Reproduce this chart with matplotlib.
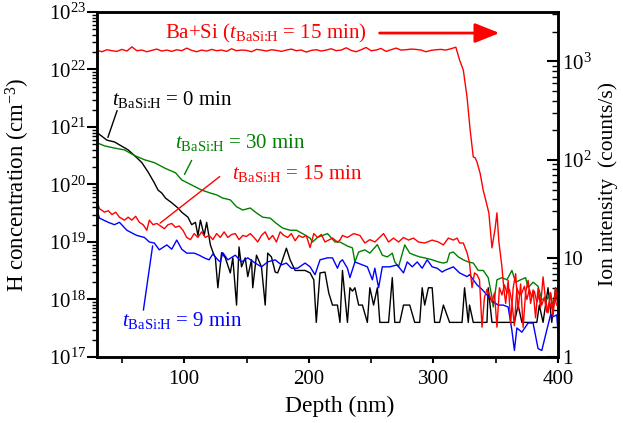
import math
import matplotlib
matplotlib.use("Agg")
import matplotlib.pyplot as plt
from matplotlib.ticker import FixedLocator, FuncFormatter, LogLocator, NullFormatter, MultipleLocator

plt.rcParams['font.family'] = ['Liberation Serif', 'DejaVu Serif']
plt.rcParams['mathtext.fontset'] = 'custom'
plt.rcParams['mathtext.rm'] = 'Liberation Serif'
plt.rcParams['mathtext.it'] = 'Liberation Serif:italic'
plt.rcParams['font.size'] = 15

# t = 0 min (black), H concentration (cm^-3)
depth_0 = [30, 38, 44, 55, 60, 66, 71, 76, 79, 82,
           85, 90, 95, 98, 103, 106, 109, 111, 113, 116,
           118, 121, 123, 125, 127, 130, 133, 137, 139, 142,
           144, 146, 149, 151, 154, 155, 158, 162, 165, 167,
           170, 173, 175, 178, 182, 185, 189, 193, 197, 201,
           204, 206, 209, 213, 216, 219, 223, 225, 227, 231,
           233, 235, 237, 240, 243, 247, 249, 252, 255, 257,
           264, 267, 269, 273, 276, 281, 285, 289, 291, 293,
           296, 299, 301, 305, 308, 313, 323, 325, 328, 329,
           332, 343, 344, 347, 365, 368, 371, 383, 385, 388,
           392, 395, 398, 400]
h_0 = [8.0e20, 5.9e20, 5.5e20, 4.0e20, 3.2e20, 2.4e20, 1.65e20, 1.07e20, 8.0e19, 7.1e19,
       5.8e19, 4.8e19, 3.9e19, 3.3e19, 2.7e19, 2.0e19, 2.2e19, 1.3e19, 2.4e19, 1.3e19,
       2.2e19, 8.9e18, 6.7e18, 5.3e18, 1.6e18, 6.5e18, 5.3e18, 2.9e18, 5.3e18, 8.0e17,
       8.2e18, 3.7e18, 5.3e18, 2.5e18, 4.9e18, 1.6e18, 5.9e18, 3.7e18, 8.0e17, 6.4e18,
       5.5e18, 3.0e18, 2.9e18, 4.3e18, 7.8e18, 4.9e18, 3.2e18, 3.2e18, 3.2e18, 2.9e18,
       2.2e18, 4.0e17, 2.9e18, 3.0e18, 1.3e18, 8.0e17, 8.0e17, 4.0e17, 3.2e18, 4.0e17,
       1.6e18, 1.4e18, 1.6e18, 8.0e17, 8.0e17, 4.0e17, 1.6e18, 8.0e17, 1.6e18, 4.0e17,
       4.0e17, 2.4e18, 4.0e17, 4.0e17, 8.0e17, 8.0e17, 4.0e17, 4.0e17, 1.6e18, 8.0e17,
       1.6e18, 1.6e18, 4.0e17, 4.0e17, 8.0e17, 4.0e17, 4.0e17, 1.6e18, 4.0e17, 8.0e17,
       4.0e17, 4.0e17, 1.6e18, 4.0e17, 4.0e17, 8.0e17, 4.0e17, 4.0e17, 8.0e17, 4.0e17,
       1.6e18, 4.0e17, 1.6e18, 8.0e17]

# t = 9 min (blue)
depth_9 = [30, 32, 39, 44, 48, 54, 59, 62, 68, 72,
           76, 80, 86, 90, 94, 98, 102, 108, 112, 116,
           120, 123, 127, 129, 131, 135, 141, 146, 151, 157,
           162, 167, 173, 178, 182, 186, 191, 197, 201, 205,
           209, 215, 219, 223, 225, 227, 231, 233, 237, 243,
           247, 251, 253, 256, 259, 265, 271, 273, 276, 279,
           283, 287, 291, 295, 299, 303, 307, 309, 316, 321,
           327, 329, 332, 335, 339, 343, 348, 352, 356, 360,
           363, 365, 367, 371, 376, 380, 384, 387, 390, 394,
           396, 399, 400]
h_9 = [3.6e19, 2.6e19, 2.2e19, 2.0e19, 2.2e19, 1.6e19, 1.4e19, 1.3e19, 1.2e19, 1.0e19,
       9.6e18, 7.3e18, 8.9e18, 7.5e18, 1.08e19, 7.5e18, 6.4e18, 6.4e18, 5.9e18, 5.3e18,
       4.9e18, 6.2e18, 4.9e18, 4.5e18, 6.5e18, 4.9e18, 5.9e18, 4.5e18, 5.3e18, 4.3e18,
       3.7e18, 4.5e18, 4.9e18, 4.0e18, 4.3e18, 3.5e18, 3.5e18, 4.3e18, 3.7e18, 2.7e18,
       4.9e18, 5.3e18, 5.3e18, 3.5e18, 4.5e18, 4.9e18, 3.5e18, 2.4e18, 4.5e18, 4.0e18,
       3.7e18, 2.2e18, 3.5e18, 1.6e18, 3.7e18, 3.7e18, 4.0e18, 3.5e18, 2.9e18, 4.5e18,
       3.7e18, 4.5e18, 3.5e18, 4.9e18, 3.7e18, 3.5e18, 3.0e18, 3.2e18, 3.7e18, 2.9e18,
       2.5e18, 2.7e18, 2.2e18, 1.8e18, 1.5e18, 1.2e18, 9.1e17, 8.0e17, 8.0e17, 7.4e17,
       2.9e17, 1.3e17, 3.2e17, 2.7e17, 3.9e17, 3.9e17, 1.4e17, 1.3e17, 2.4e17, 5.4e17,
       5.0e17, 5.4e17, 2.7e17]

# t = 15 min (red)
depth_15 = [30, 32, 36, 39, 42, 45, 48, 52, 55, 58,
            61, 64, 67, 70, 72, 75, 78, 81, 84, 87,
            90, 93, 96, 99, 102, 105, 108, 111, 114, 117,
            120, 123, 126, 129, 132, 135, 138, 141, 144, 147,
            150, 153, 156, 159, 162, 165, 168, 171, 174, 177,
            180, 183, 186, 189, 192, 195, 198, 201, 204, 207,
            210, 213, 219, 223, 225, 227, 231, 236, 241, 245,
            249, 253, 260, 264, 268, 272, 276, 280, 284, 288,
            293, 299, 304, 308, 312, 316, 319, 321, 324, 327,
            329, 331, 333, 335, 337, 339, 341, 343, 345, 347,
            349, 351, 353, 355, 357, 359, 361, 363, 365, 367,
            369, 371, 373, 375, 377, 379, 381, 383, 385, 387,
            389, 391, 393, 395, 397, 399]
h_15 = [5.0e19, 3.8e19, 3.3e19, 3.5e19, 3.0e19, 3.3e19, 2.7e19, 2.4e19, 2.7e19, 2.4e19,
        2.8e19, 2.2e19, 2.0e19, 1.6e19, 2.4e19, 2.0e19, 2.1e19, 1.9e19, 1.7e19, 2.0e19,
        2.1e19, 1.8e19, 1.9e19, 1.6e19, 1.2e19, 1.1e19, 1.4e19, 1.2e19, 1.5e19, 1.2e19,
        1.3e19, 1.1e19, 1.4e19, 1.2e19, 1.5e19, 1.2e19, 1.35e19, 1.4e19, 1.1e19, 1.3e19,
        1.25e19, 1.4e19, 1.2e19, 1.0e19, 1.3e19, 1.5e19, 1.1e19, 1.3e19, 1.0e19, 1.5e19,
        1.3e19, 1.2e19, 1.4e19, 1.05e19, 1.3e19, 1.2e19, 1.3e19, 8.0e18, 1.4e19, 1.2e19,
        1.35e19, 1.0e19, 1.17e19, 1.0e19, 1.08e19, 1.3e19, 1.2e19, 1.4e19, 1.3e19, 9.6e18,
        1.1e19, 1.0e19, 1.4e19, 1.0e19, 1.17e19, 1.0e19, 1.2e19, 1.08e19, 1.17e19, 1.0e19,
        9.6e18, 1.08e19, 1.0e19, 8.9e18, 1.17e19, 1.08e19, 1.17e19, 9.6e18, 9.6e18, 6.5e18,
        4.3e18, 1.6e18, 2.9e18, 2.7e18, 2.2e18, 3.3e17, 1.1e18, 1.5e18, 1.2e18, 9.0e17,
        1.3e18, 3.3e17, 1.6e18, 1.2e18, 1.8e18, 1.3e18, 1.5e18, 9.0e17, 3.5e17, 1.6e18,
        1.2e18, 1.3e18, 1.7e18, 1.0e18, 1.5e18, 1.1e18, 1.4e18, 9.0e17, 1.2e18, 8.0e17,
        1.1e18, 6.0e17, 9.0e17, 7.0e17, 1.1e18, 8.0e17]

# t = 30 min (green)
depth_30 = [30, 36, 44, 52, 60, 68, 76, 85, 93, 98,
            106, 114, 121, 126, 131, 137, 142, 147, 153, 158,
            163, 169, 174, 179, 185, 190, 195, 201, 203, 207,
            211, 215, 221, 225, 231, 235, 237, 240, 245, 249,
            255, 259, 263, 267, 269, 272, 277, 281, 285, 289,
            293, 299, 304, 308, 311, 313, 316, 320, 324, 328,
            332, 336, 340, 344, 347, 348, 351, 355, 359, 363,
            366, 370, 374, 376, 380, 384, 387, 391, 394, 396,
            400]
h_30 = [5.3e20, 4.7e20, 4.3e20, 4.0e20, 3.2e20, 2.7e20, 2.4e20, 1.9e20, 1.6e20, 1.2e20,
        9.8e19, 8.0e19, 7.1e19, 6.6e19, 5.8e19, 5.4e19, 4.1e19, 3.6e19, 3.9e19, 3.2e19,
        2.7e19, 2.6e19, 2.1e19, 1.75e19, 1.6e19, 1.6e19, 1.4e19, 1.17e19, 1.0e19, 1.2e19,
        1.3e19, 1.4e19, 1.0e19, 1.0e19, 8.5e18, 7.9e18, 4.5e18, 6.7e18, 7.3e18, 6.4e18,
        9.0e18, 5.9e18, 5.5e18, 6.4e18, 4.5e18, 3.7e18, 8.9e18, 6.4e18, 5.9e18, 5.5e18,
        5.3e18, 4.9e18, 4.5e18, 4.3e18, 4.5e18, 6.4e18, 6.7e18, 5.5e18, 4.9e18, 4.5e18,
        4.3e18, 3.2e18, 3.2e18, 2.4e18, 1.1e18, 7.4e17, 2.2e18, 2.4e18, 2.2e18, 3.2e18,
        2.0e18, 2.2e18, 2.4e18, 1.6e18, 2.0e18, 1.7e18, 1.0e18, 1.0e18, 1.3e18, 7.4e17,
        1.7e18]

# Ba+Si ion intensity (counts/s), right axis
depth_basi = [30, 34, 38, 42, 46, 50, 54, 58, 62, 66,
              70, 74, 78, 82, 86, 90, 94, 98, 102, 106,
              110, 114, 118, 122, 126, 130, 134, 138, 142, 146,
              150, 154, 158, 162, 166, 170, 174, 178, 182, 186,
              190, 194, 198, 202, 206, 210, 214, 218, 222, 226,
              230, 234, 238, 242, 246, 250, 254, 258, 262, 266,
              270, 274, 278, 282, 286, 290, 294, 298, 302, 306,
              310, 314, 318, 321, 324, 327, 329.5, 332, 333.5, 335,
              337.5, 340, 342, 344.5, 347, 349.5, 351, 352.5, 355, 356.5,
              358, 360, 362, 364, 366, 368, 370, 372, 374, 376,
              378, 380, 382, 384, 386, 388, 390, 392, 394, 396,
              398, 400]
counts_basi = [1290, 1250, 1310, 1280, 1260, 1320, 1270, 1400, 1280, 1300,
               1250, 1290, 1330, 1270, 1300, 1260, 1310, 1280, 1360, 1290,
               1250, 1300, 1270, 1320, 1280, 1300, 1260, 1340, 1280, 1300,
               1290, 1250, 1320, 1300, 1270, 1310, 1290, 1260, 1300, 1330,
               1280, 1300, 1240, 1290, 1310, 1270, 1300, 1340, 1280, 1300,
               1370, 1290, 1250, 1310, 1380, 1280, 1300, 1350, 1260, 1310,
               1360, 1300, 1310, 1330, 1320, 1300, 1250, 1290, 1310, 1320,
               1300, 1340, 1390, 1030, 815, 433, 200, 107, 105, 95,
               73, 49, 39, 29, 12.8, 20, 29, 15, 8.2, 5,
               3.5, 6, 2.2, 5, 7, 3, 5.5, 2.0, 4.5, 6,
               3.5, 4.8, 2.5, 5, 3.2, 6.5, 3.8, 2.8, 4.5, 2.6,
               5, 3.5]

fig = plt.figure(figsize=(6.23, 4.23), dpi=100)
ax = fig.add_axes([97 / 623, 66 / 423, 461 / 623, 345 / 423])
ax2 = ax.twinx()

lw = 1.0
ax.plot(depth_0, h_0, color='black', lw=lw)
ax.plot(depth_30, h_30, color='#008000', lw=lw)
ax.plot(depth_9, h_9, color='#0000ff', lw=lw)
ax.plot(depth_15, h_15, color='#ff0000', lw=lw)
ax2.plot(depth_basi, counts_basi, color='#ff0000', lw=lw)

ax.set_yscale('log')
ax.set_ylim(1e17, 1e23)
ax.set_xlim(30, 400)
ax2.set_yscale('log')
ax2.set_ylim(1, 10 ** 3.5)

ax.xaxis.set_major_locator(FixedLocator([100, 200, 300, 400]))
ax.xaxis.set_minor_locator(MultipleLocator(50))
ax.yaxis.set_major_locator(LogLocator(base=10, numticks=10))
ax.yaxis.set_minor_locator(LogLocator(base=10, subs=range(2, 10), numticks=20))
ax.yaxis.set_minor_formatter(NullFormatter())
ax.yaxis.set_major_formatter(FuncFormatter(lambda v, p: r'$10^{%d}$' % round(math.log10(v))))

ax2.yaxis.set_major_locator(FixedLocator([1, 10, 100, 1000]))
ax2.yaxis.set_minor_locator(LogLocator(base=10, subs=range(2, 10), numticks=20))
ax2.yaxis.set_minor_formatter(NullFormatter())
right_labels = {1: '1', 10: '10', 100: r'$10^{2}$', 1000: r'$10^{3}$'}
ax2.yaxis.set_major_formatter(FuncFormatter(lambda v, p: right_labels.get(int(round(v)), '')))

for s in ax.spines.values():
    s.set_linewidth(1.8)
for s in ax2.spines.values():
    s.set_linewidth(1.8)

ax.tick_params(axis='x', which='major', direction='out', length=4, width=1.5, pad=5, top=False, labelsize=15)
ax.tick_params(axis='x', which='minor', direction='out', length=4, width=1.2, top=False)
ax.tick_params(axis='y', which='major', direction='out', length=7, width=1.5, pad=1, right=False, labelsize=15)
ax.tick_params(axis='y', which='minor', direction='out', length=3.5, width=1.0, right=False)
ax2.tick_params(axis='y', which='major', direction='in', length=8, width=1.5, pad=3, labelsize=15)
ax2.tick_params(axis='y', which='minor', direction='in', length=4, width=1.0)

ax.set_xlabel('Depth (nm)', fontsize=17)
ax.xaxis.set_label_coords(0.527, -0.113)
ax.set_ylabel(r'H concentration (cm$^{-3}$)', fontsize=16.5)
ax.yaxis.set_label_coords(-0.14, 0.5)
ax2.set_ylabel('Ion intensity  (counts/s)', fontsize=15.5)
ax2.yaxis.set_label_coords(1.088, 0.5)

sub = r'$t_{\text{BaSi:H}}$'
tr = ax.transAxes
ax.text(0.1475, 0.939, 'Ba+Si (' + sub + ' = 15 min)', color='#ff0000', transform=tr, ha='left', va='center', fontsize=15)
ax.annotate('', xy=(0.879, 0.939), xytext=(0.607, 0.939), xycoords=tr, textcoords=tr,
            arrowprops=dict(arrowstyle='-|>,head_length=1.0,head_width=0.4', color='#ff0000', lw=2))

ax.text(0.0325, 0.745, sub + ' = 0 min', color='black', transform=tr, ha='left', va='center', fontsize=15)
ax.annotate('', xy=(0.0217, 0.629), xytext=(0.0456, 0.722), xycoords=tr, textcoords=tr,
            arrowprops=dict(arrowstyle='-', color='black', lw=1))

ax.text(0.169, 0.623, sub + ' = 30 min', color='#008000', transform=tr, ha='left', va='center', fontsize=15)
ax.annotate('', xy=(0.187, 0.522), xytext=(0.208, 0.577), xycoords=tr, textcoords=tr,
            arrowprops=dict(arrowstyle='-', color='#008000', lw=1))

ax.text(0.293, 0.533, sub + ' = 15 min', color='#ff0000', transform=tr, ha='left', va='center', fontsize=15)
ax.annotate('', xy=(0.132, 0.383), xytext=(0.271, 0.528), xycoords=tr, textcoords=tr,
            arrowprops=dict(arrowstyle='-', color='#ff0000', lw=1))

ax.text(0.054, 0.107, sub + ' = 9 min', color='#0000ff', transform=tr, ha='left', va='center', fontsize=15)
ax.annotate('', xy=(0.1215, 0.330), xytext=(0.0998, 0.128), xycoords=tr, textcoords=tr,
            arrowprops=dict(arrowstyle='-', color='#0000ff', lw=1))

fig.savefig('out.png', dpi=100)
